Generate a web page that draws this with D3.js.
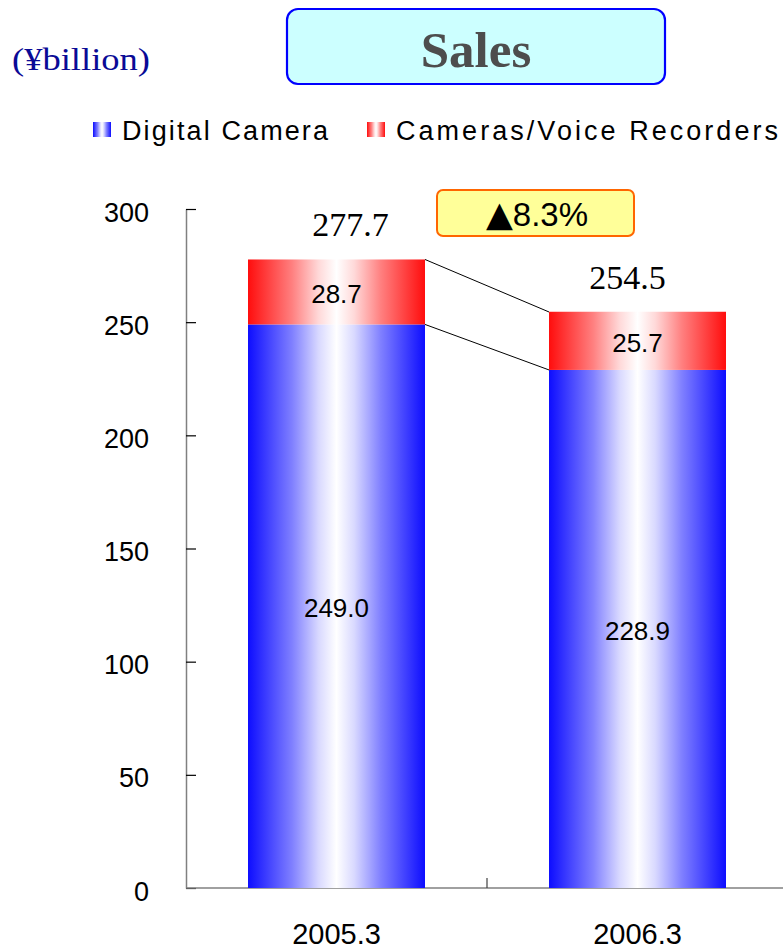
<!DOCTYPE html>
<html>
<head>
<meta charset="utf-8">
<script src="https://cdn.jsdelivr.net/npm/d3@7"></script>
<style>
  body { margin: 0; background: #fff; }
  svg { display: block; }
</style>
</head>
<body>
<div id="chart"></div>
<script>
// chart data
var years = ["2005.3", "2006.3"]
var digitalCamera = [249.0, 228.9]
var voiceRecorders = [28.7, 25.7]
var totals = [277.7, 254.5]
var seriesNames = ["Digital Camera", "Cameras/Voice Recorders"]
var yTicks = [0, 50, 100, 150, 200, 250, 300]
var changeValue = "8.3%"

var W = 783, H = 951
var sans = "'Liberation Sans', Arial, sans-serif"
var serif = "'Liberation Serif', 'Times New Roman', serif"

var svg = d3.select("#chart").append("svg")
  .attr("width", W).attr("height", H)

// gradients (edge colour -> white in the middle -> edge colour)
var defs = svg.append("defs")
function makeGrad(id, col) {
  var g = defs.append("linearGradient").attr("id", id)
    .attr("x1", "0%").attr("x2", "100%").attr("y1", "0%").attr("y2", "0%")
  var mix = d3.interpolateRgb(col, "#ffffff")
  var stops = [0, 0.25, 0.4, 0.5, 0.6, 0.75, 1]
  var amt = [0.05, 0.5, 0.85, 1, 0.85, 0.5, 0.05]
  g.selectAll("stop").data(stops).enter().append("stop")
    .attr("offset", function(d) { return d })
    .attr("stop-color", function(d, i) { return mix(amt[i]) })
}
makeGrad("gBlue", "#0000ff")
makeGrad("gRed", "#ff0000")

// scales
var x = d3.scaleBand().domain(years).range([186, 788]).paddingInner(0.412).paddingOuter(0.206)
var y = d3.scaleLinear().domain([0, 300]).range([888, 209])

// y axis
var yAxis = svg.append("g").attr("transform", "translate(186,0)")
  .call(d3.axisLeft(y).tickValues(yTicks).tickSize(-10).tickPadding(37).tickSizeOuter(0))
yAxis.select(".domain").attr("stroke", "#808080").attr("stroke-width", 1.5)
yAxis.selectAll(".tick line").attr("stroke", "#000").attr("stroke-width", 1.2)
yAxis.selectAll(".tick text")
  .attr("font-family", sans).attr("font-size", 27).attr("fill", "#000").attr("dy", "0.45em")

// x axis
var xAxis = svg.append("g").attr("transform", "translate(0,888)")
  .call(d3.axisBottom(x).tickSize(0).tickPadding(35))
xAxis.select(".domain").attr("d", "M186,0H783").attr("stroke", "#808080").attr("stroke-width", 1.5)
xAxis.selectAll(".tick text")
  .attr("font-family", sans).attr("font-size", 29).attr("fill", "#000")
// category boundary tick
var mid = x(years[0]) + x.bandwidth() + x.step() * x.paddingInner() / 2
xAxis.append("line")
  .attr("x1", mid).attr("x2", mid)
  .attr("y1", 0).attr("y2", -10).attr("stroke", "#404040").attr("stroke-width", 1.2)

// bars
var bars = svg.append("g")
bars.selectAll(".blue").data(years).enter().append("rect")
  .attr("x", function(d) { return x(d) })
  .attr("width", x.bandwidth())
  .attr("y", function(d, i) { return y(digitalCamera[i]) })
  .attr("height", function(d, i) { return y(0) - y(digitalCamera[i]) })
  .attr("fill", "url(#gBlue)")
bars.selectAll(".red").data(years).enter().append("rect")
  .attr("x", function(d) { return x(d) })
  .attr("width", x.bandwidth())
  .attr("y", function(d, i) { return y(digitalCamera[i] + voiceRecorders[i]) })
  .attr("height", function(d, i) { return y(digitalCamera[i]) - y(digitalCamera[i] + voiceRecorders[i]) })
  .attr("fill", "url(#gRed)")

// connector lines between the two bars
var x1 = x(years[0]) + x.bandwidth(), x2 = x(years[1])
;[[totals[0], totals[1]], [digitalCamera[0], digitalCamera[1]]].forEach(function(p) {
  svg.append("line")
    .attr("x1", x1).attr("y1", y(p[0])).attr("x2", x2).attr("y2", y(p[1]))
    .attr("stroke", "#000").attr("stroke-width", 1)
})

// segment labels
var cx = function(d) { return x(d) + x.bandwidth() / 2 }
svg.selectAll(".lblBlue").data(years).enter().append("text")
  .attr("x", cx)
  .attr("y", function(d, i) { return (y(0) + y(digitalCamera[i])) / 2 + 11 })
  .attr("text-anchor", "middle").attr("font-family", sans).attr("font-size", 26)
  .text(function(d, i) { return digitalCamera[i].toFixed(1) })
svg.selectAll(".lblRed").data(years).enter().append("text")
  .attr("x", cx)
  .attr("y", function(d, i) { return (y(digitalCamera[i]) + y(totals[i])) / 2 + 11 })
  .attr("text-anchor", "middle").attr("font-family", sans).attr("font-size", 26)
  .text(function(d, i) { return voiceRecorders[i].toFixed(1) })

// totals
var totalShift = [14, -10]
svg.selectAll(".lblTot").data(years).enter().append("text")
  .attr("x", function(d, i) { return cx(d) + totalShift[i] })
  .attr("y", function(d, i) { return y(totals[i]) - 23 })
  .attr("text-anchor", "middle").attr("font-family", serif).attr("font-size", 34)
  .text(function(d, i) { return totals[i].toFixed(1) })

// change badge
svg.append("rect").attr("x", 437).attr("y", 190).attr("width", 197).attr("height", 46)
  .attr("rx", 6).attr("fill", "#ffff99").attr("stroke", "#ff6600").attr("stroke-width", 2)
var badge = svg.append("text").attr("x", 537).attr("y", 226).attr("text-anchor", "middle")
  .attr("font-family", sans).attr("font-size", 33)
badge.append("tspan").attr("font-family", "'DejaVu Sans', sans-serif").attr("font-size", 35).text("\u25B2")
badge.append("tspan").text(changeValue)

// title box
svg.append("rect").attr("x", 287).attr("y", 9).attr("width", 378).attr("height", 75)
  .attr("rx", 11).attr("fill", "#ccffff").attr("stroke", "#0000ff").attr("stroke-width", 2.2)
svg.append("text").attr("x", 476).attr("y", 67).attr("text-anchor", "middle")
  .attr("font-family", serif).attr("font-weight", "bold").attr("font-size", 51)
  .attr("fill", "#4d4d4d").text("Sales")

// unit label
svg.append("text").attr("x", 12).attr("y", 70)
  .attr("font-family", serif).attr("font-size", 32).attr("fill", "#0a0a96")
  .attr("textLength", 138).attr("lengthAdjust", "spacingAndGlyphs")
  .text("(\u00A5billion)")

// legend
var legendX = [93, 367], legendTextX = [122, 396], legendGrad = ["url(#gBlue)", "url(#gRed)"]
var legendLen = [206, 382]
var leg = svg.selectAll(".leg").data(seriesNames).enter().append("g")
leg.append("rect")
  .attr("x", function(d, i) { return legendX[i] }).attr("y", 122)
  .attr("width", 18).attr("height", 15)
  .attr("fill", function(d, i) { return legendGrad[i] })
leg.append("text")
  .attr("x", function(d, i) { return legendTextX[i] }).attr("y", 140)
  .attr("font-family", sans).attr("font-size", 27)
  .attr("textLength", function(d, i) { return legendLen[i] }).attr("lengthAdjust", "spacing")
  .text(function(d) { return d })
</script>
</body>
</html>
